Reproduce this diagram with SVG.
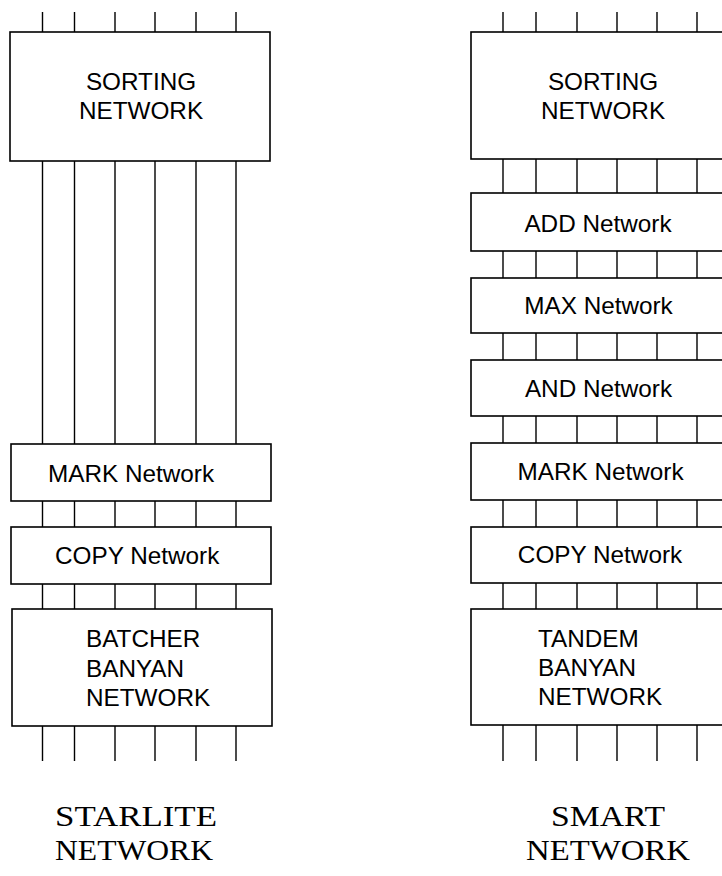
<svg xmlns="http://www.w3.org/2000/svg" width="722" height="876" viewBox="0 0 722 876">
<style>
.box{fill:#fff;stroke:#000;stroke-width:1.6}
.wire{fill:none;stroke:#000;stroke-width:1.4}
.lbl{font-family:"Liberation Sans",Arial,sans-serif;font-size:24.3px;fill:#000}
.ttl{font-family:"Liberation Serif","Times New Roman",serif;font-size:30px;fill:#000}
.mid{text-anchor:middle}
</style>
<rect width="722" height="876" fill="#fff"/>
<g id="connectors">
  <path class="wire" d="M42.5 12V32M42.5 161V444M42.5 501V527M42.5 584V609M42.5 726V761
  M74.5 12V32M74.5 161V444M74.5 501V527M74.5 584V609M74.5 726V761
  M115 12V32M115 161V444M115 501V527M115 584V609M115 726V761
  M155 12V32M155 161V444M155 501V527M155 584V609M155 726V761
  M196 12V32M196 161V444M196 501V527M196 584V609M196 726V761
  M236 12V32M236 161V444M236 501V527M236 584V609M236 726V761"/>
  <path class="wire" d="M503 12V32M503 159V193M503 251V278M503 333V360M503 416V443M503 500V527M503 583V609M503 725V761
  M536 12V32M536 159V193M536 251V278M536 333V360M536 416V443M536 500V527M536 583V609M536 725V761
  M577 12V32M577 159V193M577 251V278M577 333V360M577 416V443M577 500V527M577 583V609M577 725V761
  M617 12V32M617 159V193M617 251V278M617 333V360M617 416V443M617 500V527M617 583V609M617 725V761
  M657 12V32M657 159V193M657 251V278M657 333V360M657 416V443M657 500V527M657 583V609M657 725V761
  M697 12V32M697 159V193M697 251V278M697 333V360M697 416V443M697 500V527M697 583V609M697 725V761"/>
</g>
<g id="starlite-sorting">
  <rect class="box" x="10" y="32" width="260" height="129"/>
  <text class="lbl mid" x="141" y="90">SORTING</text>
  <text class="lbl mid" x="141" y="119">NETWORK</text>
</g>
<g id="starlite-mark">
  <rect class="box" x="11" y="444" width="260" height="57"/>
  <text class="lbl" x="48" y="482">MARK Network</text>
</g>
<g id="starlite-copy">
  <rect class="box" x="11" y="527" width="260" height="57"/>
  <text class="lbl" x="55" y="564">COPY Network</text>
</g>
<g id="starlite-batcher">
  <rect class="box" x="12" y="609" width="260" height="117"/>
  <text class="lbl" x="86" y="647">BATCHER</text>
  <text class="lbl" x="86" y="677">BANYAN</text>
  <text class="lbl" x="86" y="706">NETWORK</text>
</g>
<g id="smart-sorting">
  <rect class="box" x="471" y="32" width="270" height="127"/>
  <text class="lbl mid" x="603" y="90">SORTING</text>
  <text class="lbl mid" x="603" y="119">NETWORK</text>
</g>
<g id="smart-add">
  <rect class="box" x="471" y="193" width="270" height="58"/>
  <text class="lbl mid" x="598" y="232">ADD Network</text>
</g>
<g id="smart-max">
  <rect class="box" x="471" y="278" width="270" height="55"/>
  <text class="lbl mid" x="598.5" y="314">MAX Network</text>
</g>
<g id="smart-and">
  <rect class="box" x="471" y="360" width="270" height="56"/>
  <text class="lbl mid" x="598.5" y="397">AND Network</text>
</g>
<g id="smart-mark">
  <rect class="box" x="471" y="443" width="270" height="57"/>
  <text class="lbl mid" x="600.5" y="480">MARK Network</text>
</g>
<g id="smart-copy">
  <rect class="box" x="471" y="527" width="270" height="56"/>
  <text class="lbl mid" x="600" y="563">COPY Network</text>
</g>
<g id="smart-tandem">
  <rect class="box" x="471" y="609" width="270" height="116"/>
  <text class="lbl" x="538" y="647">TANDEM</text>
  <text class="lbl" x="538" y="676">BANYAN</text>
  <text class="lbl" x="538" y="705">NETWORK</text>
</g>
<g id="titles">
  <text class="ttl" x="55" y="826" textLength="162" lengthAdjust="spacingAndGlyphs">STARLITE</text>
  <text class="ttl" x="55" y="860" textLength="158" lengthAdjust="spacingAndGlyphs">NETWORK</text>
  <text class="ttl" x="551" y="826" textLength="114" lengthAdjust="spacingAndGlyphs">SMART</text>
  <text class="ttl" x="526" y="860" textLength="164" lengthAdjust="spacingAndGlyphs">NETWORK</text>
</g>
</svg>
